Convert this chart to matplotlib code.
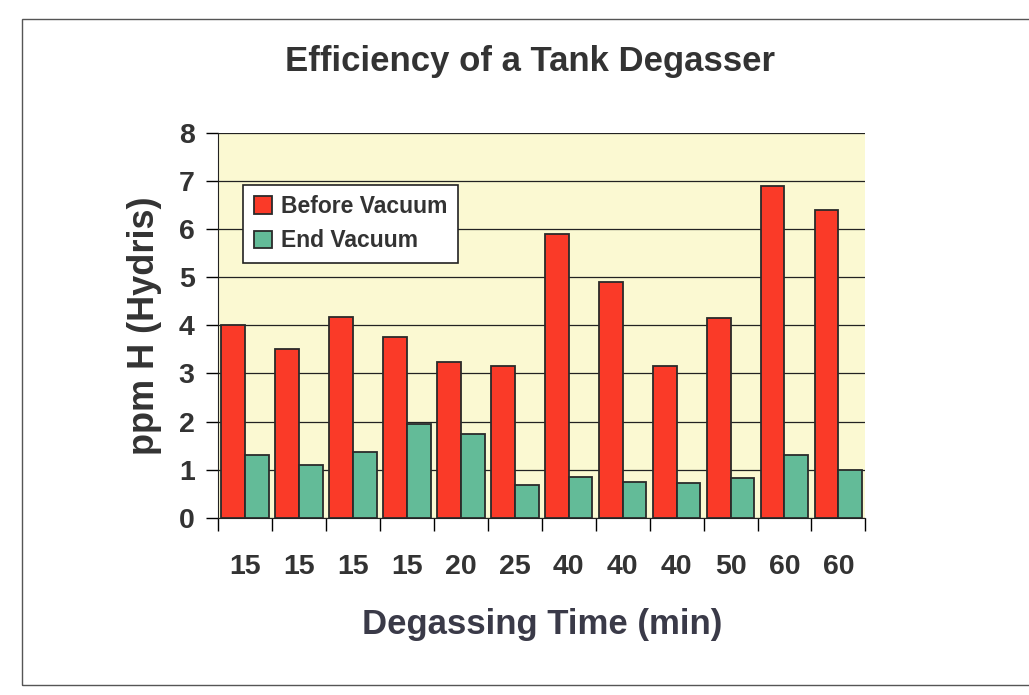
import matplotlib.pyplot as plt
import numpy as np
from matplotlib.patches import Rectangle

plt.rcParams['font.family'] = ['Liberation Sans', 'DejaVu Sans']

times = ["15", "15", "15", "15", "20", "25", "40", "40", "40", "50", "60", "60"]
before_vacuum = [4.0, 3.5, 4.17, 3.76, 3.24, 3.15, 5.9, 4.9, 3.15, 4.15, 6.9, 6.4]
end_vacuum = [1.3, 1.09, 1.37, 1.95, 1.74, 0.68, 0.85, 0.75, 0.72, 0.82, 1.3, 1.0]

text_color = "#333333"

fig = plt.figure(figsize=(10.29, 6.95), dpi=100)
fig.patch.set_facecolor("white")

# page frame from the scanned slide
fig.add_artist(Rectangle((0.021, 0.014), 0.99, 0.958, transform=fig.transFigure,
                         fill=False, edgecolor="#555555", linewidth=1))

ax = fig.add_axes([0.212, 0.255, 0.629, 0.554])
ax.set_facecolor("#fbf9d2")

x = np.arange(len(times))
w = 0.44
ax.bar(x - w / 2, before_vacuum, w, color="#fa3a28", edgecolor="#2a2a2a",
       linewidth=1.3, label="Before Vacuum", zorder=3)
ax.bar(x + w / 2, end_vacuum, w, color="#63bb98", edgecolor="#2a2a2a",
       linewidth=1.3, label="End Vacuum", zorder=3)

ax.set_xlim(-0.5, len(times) - 0.5)
ax.set_ylim(0, 8)
ax.set_yticks(range(0, 9))
ax.yaxis.grid(True, color="#222222", linewidth=0.9, zorder=1)

# x ticks sit between the categories, labels centred under each group
ax.set_xticks(np.arange(-0.5, len(times), 1.0))
ax.set_xticklabels([])
ax.set_xticks(x, minor=True)
ax.set_xticklabels(times, minor=True)
ax.tick_params(axis="x", which="minor", length=0, pad=26)
ax.tick_params(axis="x", which="major", length=9, width=1, direction="out")
ax.tick_params(axis="y", length=9, width=1, direction="out", pad=8)

for lbl in ax.get_xticklabels(minor=True) + ax.get_yticklabels():
    lbl.set_fontsize(20.5)
    lbl.set_fontweight("bold")
    lbl.set_color(text_color)

for s in ["top", "right"]:
    ax.spines[s].set_visible(False)
ax.spines["left"].set_color("#222222")
ax.spines["bottom"].set_color("#222222")

ax.set_ylabel("ppm H (Hydris)", fontsize=26, fontweight="bold", color=text_color, labelpad=12)
ax.set_xlabel("Degassing Time (min)", fontsize=25, fontweight="bold", color="#3a3a48", labelpad=20)
fig.text(0.515, 0.912, "Efficiency of a Tank Degasser", ha="center", va="center",
         fontsize=25, fontweight="bold", color=text_color)

leg = ax.legend(loc="upper left", bbox_to_anchor=(0.039, 0.865), borderaxespad=0,
                prop={"weight": "bold", "size": 16.5}, frameon=True, fancybox=False,
                handlelength=0.8, handleheight=0.8, handletextpad=0.4,
                borderpad=0.45, labelspacing=0.5)
leg.get_frame().set_edgecolor("#222222")
leg.get_frame().set_linewidth(1.2)
leg.get_frame().set_facecolor("white")
leg.get_frame().set_alpha(1)
for t in leg.get_texts():
    t.set_color(text_color)

fig.savefig("out.png", dpi=100)
